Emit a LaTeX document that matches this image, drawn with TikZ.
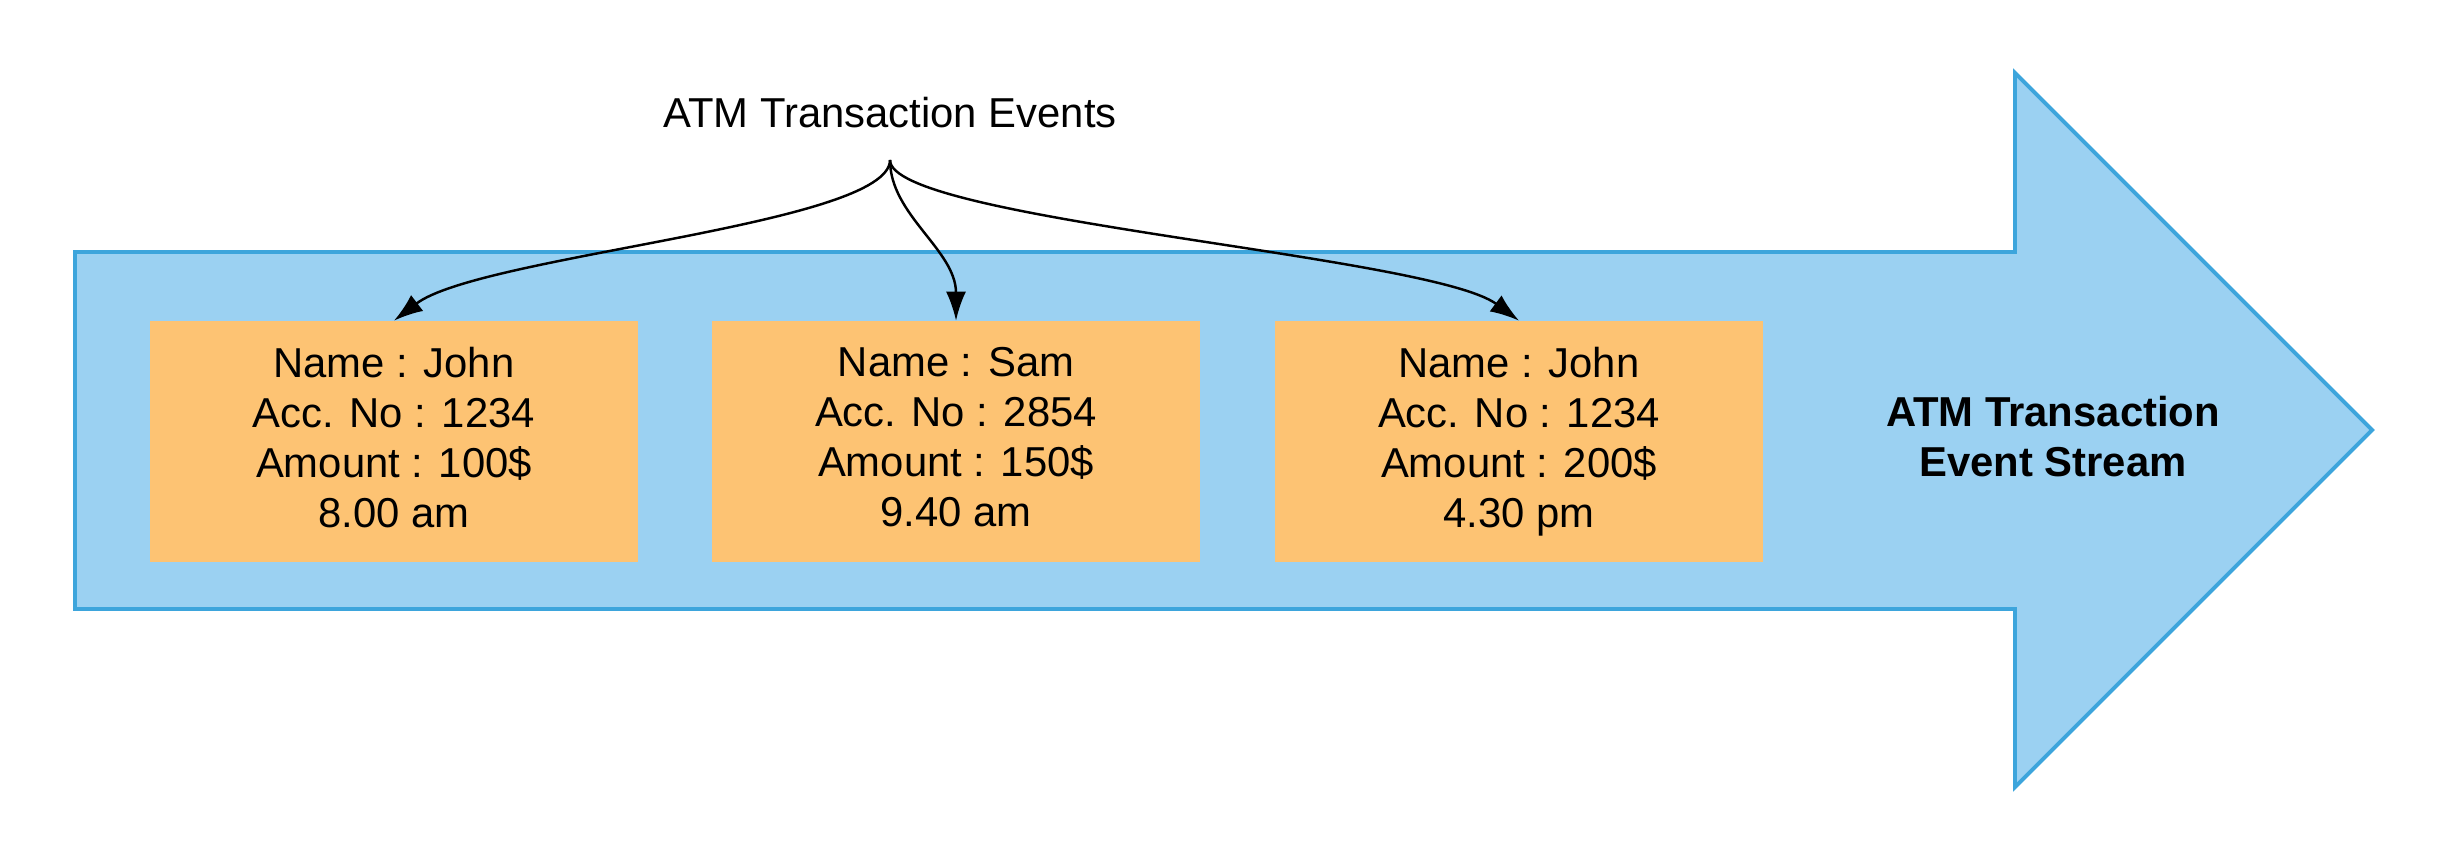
\documentclass[tikz,border=0pt]{standalone}
\usepackage{fontspec}
\setmainfont{Liberation Sans}
\usetikzlibrary{arrows.meta}
\definecolor{streamfill}{HTML}{9BD1F2}
\definecolor{streamline}{HTML}{3DA5DC}
\definecolor{eventfill}{HTML}{FDC373}
\tikzset{
  eventbox/.style={fill=eventfill,minimum width=9.76cm,minimum height=4.82cm,align=center,inner sep=0pt,font=\fontsize{23.8}{28.5}\selectfont,execute at end node=\vphantom{p}},
  eventarrow/.style={line width=1.4pt,-{Latex[length=0.58cm,width=0.4cm]}}
}
\begin{document}
\begin{tikzpicture}[x=0.02cm,y=-0.02cm]
\useasboundingbox (0,0) rectangle (2447,863);
\draw[fill=streamfill,draw=streamline,line width=2.2pt] (75,252)--(2015,252)--(2015,73)--(2372,430)--(2015,787)--(2015,609)--(75,609)--cycle;
\node[eventbox] (ev1) at (394,441.5) {Name : John\\Acc. No : 1234\\Amount : 100\$\\8.00 am};
\node[eventbox] (ev2) at (956,441.5) {Name : Sam\\Acc. No : 2854\\Amount : 150\$\\9.40 am};
\node[eventbox] (ev3) at (1519,441.5) {Name : John\\Acc. No : 1234\\Amount : 200\$\\4.30 pm};
\node[align=center,font=\fontsize{23.8}{28.5}\selectfont\bfseries] (stream) at (2053,437) {ATM Transaction\\Event Stream};
\node[font=\fontsize{23.8}{28.5}\selectfont] (events) at (890,113) {ATM Transaction Events};
\coordinate (src) at (890,160);
\draw[eventarrow] (src) .. controls (890,225) and (480,255) .. (ev1.north);
\draw[eventarrow] (src) .. controls (890,215) and (956,250) .. (ev2.north);
\draw[eventarrow] (src) .. controls (890,220) and (1430,255) .. (ev3.north);
\end{tikzpicture}
\end{document}
